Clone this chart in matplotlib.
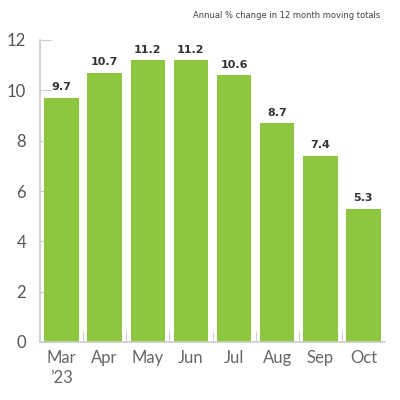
import numpy as np
import matplotlib.pyplot as plt

months = ['Mar\n\u201923', 'Apr', 'May', 'Jun', 'Jul', 'Aug', 'Sep', 'Oct']
values = [9.7, 10.7, 11.2, 11.2, 10.6, 8.7, 7.4, 5.3]

fig = plt.figure(figsize=(4, 4), dpi=100)
ax = fig.add_axes([0.1, 0.145, 0.8625, 0.755])

x = np.arange(len(months))
ax.bar(x, values, width=0.8, color='#8dc63f', zorder=2)

for xi, v in zip(x, values):
    ax.text(xi, v + 0.22, f'{v:.1f}', ha='center', va='bottom',
            fontsize=8, fontweight='bold', color='#333333',
            family='DejaVu Sans')

ax.set_xlim(-0.5, 7.5)
ax.set_ylim(0, 12)
ax.set_yticks([0, 2, 4, 6, 8, 10, 12])
ax.set_xticks(x)
ax.set_xticklabels(months)
ax.set_xticks(x[:-1] + 0.5, minor=True)

for s in ['top', 'right']:
    ax.spines[s].set_visible(False)
for s in ['left', 'bottom']:
    ax.spines[s].set_color('#cccccc')
    ax.spines[s].set_linewidth(1.2)

ax.tick_params(axis='y', direction='in', length=8, color='#cccccc',
               labelsize=12, labelcolor='#555555', pad=10)
ax.tick_params(axis='x', which='major', length=0, labelsize=12,
               labelcolor='#666666', pad=6)
ax.tick_params(axis='x', which='minor', direction='in', length=8,
               color='#cccccc')
for lab in ax.get_xticklabels() + ax.get_yticklabels():
    lab.set_linespacing(1.3)
    lab.set_family('Lato')
    lab.set_fontweight('normal')

fig.text(0.95, 0.962, 'Annual % change in 12 month moving totals',
         ha='right', va='center', fontsize=6, color='#444444',
         family='DejaVu Sans')

fig.savefig('out.png')
